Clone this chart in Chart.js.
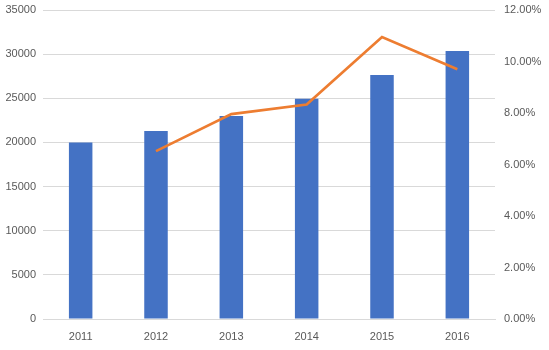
<!DOCTYPE html>
<html><head><meta charset="utf-8">
<script src="https://cdn.jsdelivr.net/npm/chart.js@4"></script>
<style>html,body{margin:0;padding:0;background:#fff}#w{width:549px;height:350px}</style>
</head><body><div id="w"><canvas id="c"></canvas></div>
<script>
const categories = ['2011','2012','2013','2014','2015','2016'];
const barValues = [20000, 21300, 23000, 24950, 27650, 30350];
const lineValues = [null, 6.52, 7.96, 8.33, 10.95, 9.7];
const leftTicks = {min:0, max:35000, step:5000};
const rightTicks = {min:0, max:12, step:2};

const font = {family:'"Liberation Sans", Arial, sans-serif', size:11};
const tickColor = '#595959';
new Chart(document.getElementById('c'), {
  data: {
    labels: categories,
    datasets: [
      {type:'line', data: lineValues, yAxisID:'y1', borderColor:'#ED7D31', borderWidth:2.75,
       pointRadius:0, tension:0, fill:false, order:0, spanGaps:false},
      {type:'bar', data: barValues, yAxisID:'y', backgroundColor:'#4472C4',
       barPercentage:0.312, categoryPercentage:1, order:1}
    ]
  },
  options: {
    responsive:true, maintainAspectRatio:false, animation:false,
    layout:{padding:{top:10,left:0,right:0,bottom:0}},
    plugins:{legend:{display:false}, tooltip:{enabled:false}},
    scales:{
      x:{grid:{display:false}, border:{display:true,color:'#D9D9D9'},
         ticks:{color:tickColor,font:font,padding:3},
         afterFit:s=>{s.height=31;}},
      y:{position:'left', min:leftTicks.min, max:leftTicks.max,
         ticks:{stepSize:leftTicks.step,color:tickColor,font:font,padding:7,
                callback:v=>String(v)},
         grid:{color:'#D9D9D9',drawTicks:false}, border:{display:false},
         afterFit:s=>{s.width=43; s.paddingTop=0; s.paddingBottom=0;}},
      y1:{position:'right', min:rightTicks.min, max:rightTicks.max,
         ticks:{stepSize:rightTicks.step,color:tickColor,font:font,padding:9,
                callback:v=>v.toFixed(2)+'%'},
         grid:{display:false,drawTicks:false}, border:{display:false},
         afterFit:s=>{s.width=54; s.paddingTop=0; s.paddingBottom=0;}}
    }
  }
});
</script></body></html>
